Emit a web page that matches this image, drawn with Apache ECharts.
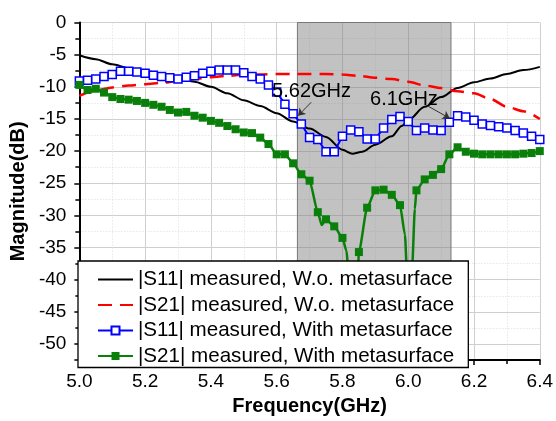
<!DOCTYPE html>
<html><head><meta charset="utf-8">
<script src="https://cdn.jsdelivr.net/npm/echarts@6/dist/echarts.min.js"></script>
<style>html,body{margin:0;padding:0;background:#fff}#c{width:556px;height:421px}</style>
</head><body><div id="c"></div>
<script>
// ---- data ----
const lineFreq = [5.00,5.05,5.10,5.15,5.20,5.25,5.30,5.35,5.40,5.45,5.50,5.55,5.60,5.65,5.70,5.75,5.80,5.85,5.90,5.95,6.00,6.05,6.10,6.15,6.20,6.25,6.30,6.35,6.40];
const s21Wo = [-11.4,-10.6,-10.1,-9.8,-9.6,-9.4,-9.1,-8.8,-8.5,-8.3,-8.1,-8.1,-8.0,-8.0,-8.0,-8.0,-8.1,-8.3,-8.6,-8.8,-9.2,-9.8,-10.2,-10.7,-11.0,-11.9,-13.1,-13.8,-15.0];
const s11WoFreq = [5.00,5.05,5.10,5.15,5.20,5.25,5.30,5.35,5.40,5.45,5.50,5.55,5.60,5.65,5.70,5.75,5.80,5.83,5.86,5.90,5.95,5.98,6.00,6.05,6.10,6.15,6.20,6.25,6.30,6.35,6.40];
const s11Wo = [-5.1,-5.7,-6.5,-7.1,-7.5,-8.0,-8.7,-9.2,-10.0,-11.0,-12.1,-13.0,-14.1,-15.4,-16.5,-17.8,-19.8,-20.4,-20.1,-19.0,-17.7,-16.1,-15.2,-13.1,-11.6,-10.2,-9.3,-8.7,-8.0,-7.4,-6.9];
const markerFreq = [5.000,5.025,5.050,5.075,5.100,5.125,5.150,5.175,5.200,5.225,5.250,5.275,5.300,5.325,5.350,5.375,5.400,5.425,5.450,5.475,5.500,5.525,5.550,5.575,5.600,5.625,5.650,5.675,5.700,5.725,5.750,5.775,5.800,5.825,5.850,5.875,5.900,5.925,5.950,5.975,6.000,6.025,6.050,6.075,6.100,6.125,6.150,6.175,6.200,6.225,6.250,6.275,6.300,6.325,6.350,6.375,6.400];
const s11With = [-9.1,-9.0,-8.8,-8.4,-8.1,-7.6,-7.6,-7.7,-7.9,-8.2,-8.4,-8.6,-8.8,-8.5,-8.3,-7.9,-7.6,-7.4,-7.4,-7.4,-7.8,-8.4,-8.8,-9.7,-10.8,-12.7,-14.2,-15.8,-17.9,-18.2,-20.1,-20.1,-17.7,-16.7,-17.0,-18.1,-18.1,-16.4,-15.1,-14.6,-15.4,-16.8,-16.4,-16.7,-16.8,-15.5,-14.5,-14.7,-15.2,-15.8,-16.0,-16.2,-16.4,-16.8,-17.2,-17.7,-18.2];
const s21With = [-9.7,-10.5,-10.3,-10.9,-11.6,-11.9,-12.0,-12.2,-12.5,-12.8,-13.1,-13.6,-14.0,-13.9,-14.5,-14.8,-15.3,-15.6,-16.1,-16.6,-17.1,-17.2,-17.9,-18.9,-20.5,-20.5,-21.9,-23.6,-24.6,-29.5,-30.6,-31.7,-33.5,-44.0,-35.7,-28.8,-26.1,-26.0,-26.8,-28.4,-50.0,-26.1,-24.4,-23.7,-22.8,-20.5,-19.4,-20.1,-20.4,-20.5,-20.5,-20.5,-20.5,-20.5,-20.4,-20.3,-20.0];
// extra curve points of the green trace (no markers)
const s21WithCurveFreq = [5.737,5.812,5.832,5.843,5.990,5.997,6.005,6.012,6.020];
const s21WithCurve = [-31.5,-35.5,-53.0,-45.0,-33.0,-40.0,-54.0,-38.0,-29.0];
const band = [5.663, 6.13];
const yRange = [-52.5, 0];
const names = ['|S11| measured, W.o. metasurface','|S21| measured, W.o. metasurface','|S11| measured, With metasurface','|S21| measured, With metasurface'];
const annotations = [
  {text:'5.62GHz', at:[5.706,-10.8], from:[5.705,-12.4], to:[5.665,-14.5]},
  {text:'6.1GHz', at:[5.987,-11.9], from:[6.06,-13.0], to:[6.126,-14.9]}
];

// ---- build ----
const FONT = "'Liberation Sans', Arial, sans-serif";
const zip = (xs, ys) => xs.map((x,i)=>[x, ys[i]]);
const greenPts = markerFreq.map((x,i)=>({value:[x, s21With[i]]}))
  .concat(s21WithCurveFreq.map((x,i)=>({value:[x, s21WithCurve[i]], symbol:'none'})))
  .sort((a,b)=>a.value[0]-b.value[0]);

const chart = echarts.init(document.getElementById('c'), null, {renderer:'canvas'});
chart.setOption({
  animation:false,
  backgroundColor:'#fff',
  grid:{left:78, right:15, top:22.5, bottom:53.5, containLabel:false},
  xAxis:{
    type:'value', min:5.0, max:6.4, interval:0.2,
    name:'Frequency(GHz)', nameLocation:'middle', nameGap:29,
    nameTextStyle:{fontFamily:FONT, fontSize:20, fontWeight:'bold', color:'#000'},
    axisLine:{onZero:false, lineStyle:{color:'#000', width:2}},
    axisTick:{show:true, length:5, lineStyle:{color:'#000', width:1.5}},
    minorTick:{show:true, splitNumber:2, length:4, lineStyle:{color:'#000', width:1.5}},
    axisLabel:{fontFamily:FONT, fontSize:19, color:'#000', margin:12, formatter:v=>v.toFixed(1)},
    splitLine:{show:true, lineStyle:{color:'#cfcfcf', width:1}},
    minorSplitLine:{show:true, lineStyle:{color:'#dcdcdc', width:1, type:[1,2]}}
  },
  yAxis:{
    type:'value', min:yRange[0], max:yRange[1], splitNumber:11,
    name:'Magnitude(dB)', nameLocation:'middle', nameGap:45,
    nameTextStyle:{fontFamily:FONT, fontSize:20, fontWeight:'bold', color:'#000'},
    axisLine:{show:true, lineStyle:{color:'#000', width:2}},
    axisTick:{show:true, length:5, lineStyle:{color:'#000', width:1.5}},
    minorTick:{show:true, splitNumber:2, length:4, lineStyle:{color:'#000', width:1.5}},
    axisLabel:{fontFamily:FONT, fontSize:19, color:'#000', margin:13, showMinLabel:false},
    splitLine:{show:true, lineStyle:{color:'#cfcfcf', width:1}},
    minorSplitLine:{show:true, lineStyle:{color:'#dcdcdc', width:1, type:[1,2]}}
  },
  legend:{
    orient:'vertical', left:78, bottom:53.5, z:50,
    itemWidth:35, itemHeight:10, itemGap:4.5,
    padding:[8,14,1,19],
    backgroundColor:'#fff', borderColor:'#000', borderWidth:1.3, borderRadius:0,
    textStyle:{fontFamily:FONT, fontSize:20.6, color:'#000'},
    data:[
      {name:names[0], itemStyle:{opacity:0}},
      {name:names[1], itemStyle:{opacity:0}},
      {name:names[2]},
      {name:names[3]}
    ]
  },
  series:[
    {
      name:names[0], type:'line', data:zip(s11WoFreq, s11Wo), symbol:'none',
      smooth:0.3, smoothMonotone:'x', z:3,
      lineStyle:{color:'#000', width:2}, itemStyle:{color:'#000'},
      markArea:{silent:true, itemStyle:{color:'rgba(120,120,120,0.45)', borderColor:'#777', borderWidth:1},
        data:[[{xAxis:band[0], yAxis:yRange[1]},{xAxis:band[1], yAxis:yRange[0]}]]}
    },
    {
      name:names[1], type:'line', data:zip(lineFreq, s21Wo), symbol:'none',
      smooth:0.3, smoothMonotone:'x', z:4,
      lineStyle:{color:'#ff0000', width:2.5, type:[14,8]}, itemStyle:{color:'#ff0000'}
    },
    {
      name:names[2], type:'line', data:zip(markerFreq, s11With), symbol:'rect', symbolSize:8,
      showAllSymbol:true, z:5,
      lineStyle:{color:'#0000ff', width:2}, itemStyle:{color:'#fff', borderColor:'#0000ff', borderWidth:1.5}
    },
    {
      name:names[3], type:'line', data:greenPts, symbol:'rect', symbolSize:8,
      showAllSymbol:true, smooth:0.2, smoothMonotone:'x', z:5,
      lineStyle:{color:'#0a800a', width:2.5}, itemStyle:{color:'#0a800a'}
    },
    {
      name:'annotations', type:'line', data:[], z:8, silent:true,
      markPoint:{silent:true, z:30, symbol:'rect', symbolSize:1, itemStyle:{color:'rgba(0,0,0,0)'},
        label:{show:true, position:'inside', fontFamily:FONT, fontSize:20, color:'#000'},
        data:annotations.map(a=>({coord:a.at, value:a.text, label:{formatter:a.text}}))},
      markLine:{silent:true, z:30, symbol:['none','arrow'], symbolSize:7, animation:false,
        lineStyle:{color:'#333', width:1, type:'solid'}, label:{show:false},
        data:annotations.map(a=>[{coord:a.from},{coord:a.to}])}
    }
  ]
});
</script>
</body></html>
